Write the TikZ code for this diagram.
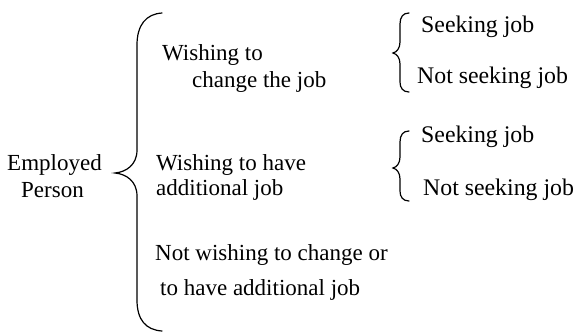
\documentclass[tikz,border=0pt]{standalone}
\usepackage{fontspec}
\setmainfont{Liberation Serif}
\begin{document}
\begin{tikzpicture}[x=1pt,y=-1pt,
  txt/.style={anchor=base west,inner sep=0pt,font=\fontsize{23}{27}\selectfont},
  rtxt/.style={anchor=base west,inner sep=0pt,font=\fontsize{23.8}{28}\selectfont},
  bracestyle/.style={line width=1.2pt,line cap=round}]
\useasboundingbox (0,0) rectangle (575,332);
% left label
\node[txt] (emp1) at (7,170) {Employed};
\node[txt] (emp2) at (21,197) {Person};
% middle items
\node[txt] (w1) at (162,60) {Wishing to};
\node[txt] (w2) at (192,87) {change the job};
\node[txt] (h1) at (156,170) {Wishing to have};
\node[txt] (h2) at (156,195) {additional job};
\node[txt] (n1) at (155,260) {Not wishing to change or};
\node[txt] (n2) at (160,295) {to have additional job};
% right items
\node[rtxt] (s1) at (421,32) {Seeking job};
\node[rtxt] (ns1) at (417,83) {Not seeking job};
\node[rtxt] (s2) at (421,142) {Seeking job};
\node[rtxt] (ns2) at (423,195) {Not seeking job};
% large brace
\draw[bracestyle] (162,13) .. controls (146,14) and (137,25) .. (137,45)
  -- (137,150) .. controls (137,165) and (126,172) .. (115,173)
  .. controls (126,174) and (137,181) .. (137,196)
  -- (137,300) .. controls (137,320) and (146,330) .. (162,331);
% small brace 1
\draw[bracestyle] (409,13) .. controls (403,13) and (400,17) .. (400,24)
  -- (400,42) .. controls (400,48) and (397,52) .. (393,53)
  .. controls (397,54) and (400,58) .. (400,64)
  -- (400,82) .. controls (400,88) and (403,92) .. (409,92);
% small brace 2
\draw[bracestyle] (409,131) .. controls (403,131) and (400,135) .. (400,142)
  -- (400,157) .. controls (400,163) and (397,167) .. (393,168)
  .. controls (397,169) and (400,173) .. (400,179)
  -- (400,191) .. controls (400,197) and (403,201) .. (409,201);
\end{tikzpicture}
\end{document}
